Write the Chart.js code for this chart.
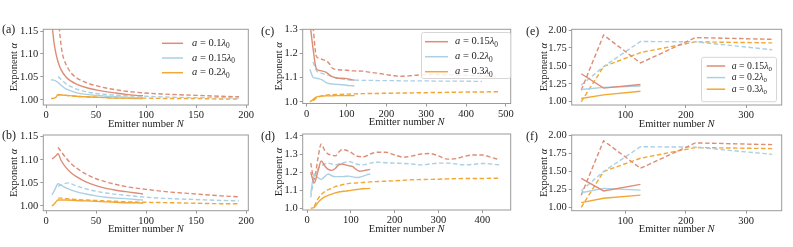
<!DOCTYPE html>
<html>
<head>
<meta charset="utf-8">
<script src="https://cdn.jsdelivr.net/npm/chart.js@4"></script>
<style>
  body { margin: 0; background: #fff; width: 793px; height: 247px; overflow: hidden; position: relative; }
  canvas { position: absolute; left: 0; top: 0; }
</style>
</head>
<body>
<canvas id="pa" width="793" height="247"></canvas>
<canvas id="pb" width="793" height="247"></canvas>
<canvas id="pc" width="793" height="247"></canvas>
<canvas id="pd" width="793" height="247"></canvas>
<canvas id="pe" width="793" height="247"></canvas>
<canvas id="pf" width="793" height="247"></canvas>
<script>
// ---- data: emitter numbers N and exponents alpha ----
// panel (a)
const aN_solid = [6, 8, 10, 12, 15, 20, 25, 30, 40, 50, 60, 70, 80, 90, 97];
const aN_dash = [12, 14, 16, 18, 20, 25, 30, 40, 50, 60, 80, 100, 125, 150, 175, 193];
const aN_blue = [5, 8, 10, 12, 15, 20, 30, 40, 50, 60, 70, 80, 90, 97];
const aN_dash2 = [12, 15, 20, 25, 30, 40, 50, 60, 80, 100, 125, 150, 175, 193];
const a_red_solid = [1.165, 1.125, 1.100, 1.083, 1.066, 1.050, 1.041, 1.035, 1.027, 1.022, 1.018, 1.015, 1.012, 1.010, 1.009];
const a_red_dash = [1.19, 1.14, 1.105, 1.088, 1.077, 1.059, 1.049, 1.038, 1.031, 1.026, 1.019, 1.015, 1.012, 1.010, 1.008, 1.007];
const a_blue_solid = [1.044, 1.043, 1.041, 1.038, 1.032, 1.024, 1.016, 1.012, 1.010, 1.008, 1.007, 1.006, 1.005, 1.005];
const a_blue_dash = [1.051, 1.045, 1.035, 1.029, 1.024, 1.018, 1.014, 1.012, 1.009, 1.008, 1.006, 1.005, 1.005, 1.004];
const a_orange_solid = [1.003, 1.004, 1.006, 1.012, 1.011, 1.010, 1.008, 1.007, 1.006, 1.005, 1.004, 1.004, 1.003, 1.003];
const a_orange_dash = [1.010, 1.011, 1.010, 1.009, 1.008, 1.007, 1.006, 1.005, 1.004, 1.004, 1.003, 1.003, 1.002, 1.002];

// panel (b)
const bN_solid = [6, 8, 10, 12, 15, 20, 25, 30, 40, 50, 60, 70, 80, 90, 97];
const bN_small = [6, 8, 10, 12, 15, 20, 30, 40, 50, 60, 70, 80, 90, 97];
const bN_dash = [12, 15, 20, 25, 30, 40, 50, 60, 80, 100, 125, 150, 175, 193];
const bN_blue_dash = [12, 15, 18, 22, 25, 30, 40, 50, 60, 80, 100, 125, 150, 175, 193];
const b_red_solid = [1.102, 1.105, 1.109, 1.113, 1.099, 1.083, 1.072, 1.064, 1.052, 1.044, 1.038, 1.034, 1.031, 1.028, 1.026];
const b_red_dash = [1.127, 1.118, 1.104, 1.092, 1.083, 1.069, 1.059, 1.052, 1.042, 1.036, 1.030, 1.026, 1.022, 1.020];
const b_blue_solid = [1.024, 1.032, 1.041, 1.048, 1.045, 1.039, 1.031, 1.026, 1.022, 1.019, 1.017, 1.016, 1.014, 1.013];
const b_blue_dash = [1.043, 1.045, 1.048, 1.050, 1.048, 1.044, 1.037, 1.032, 1.028, 1.023, 1.019, 1.016, 1.014, 1.012, 1.011];
const b_orange_solid = [1.000, 1.004, 1.009, 1.013, 1.013, 1.013, 1.012, 1.011, 1.010, 1.009, 1.008, 1.007, 1.007, 1.006];
const b_orange_dash = [1.017, 1.017, 1.016, 1.015, 1.014, 1.013, 1.012, 1.011, 1.009, 1.008, 1.007, 1.006, 1.005, 1.005];

// panel (c)
const cN_solid = [8, 16, 24, 32, 40, 48, 56, 64, 72, 80, 88, 96, 104, 112, 120];
const cN_dash = [16, 24, 32, 40, 48, 56, 64, 80, 100, 120, 140, 160, 180, 200, 220, 240, 260, 280, 300, 320, 340, 360, 380, 400, 420, 440, 460, 480];
const c_red_solid = [1.33, 1.22, 1.138, 1.130, 1.127, 1.123, 1.113, 1.104, 1.100, 1.098, 1.098, 1.097, 1.095, 1.092, 1.090];
const c_blue_solid = [1.135, 1.102, 1.098, 1.095, 1.090, 1.081, 1.076, 1.074, 1.073, 1.072, 1.071, 1.070, 1.068, 1.067, 1.066];
const c_orange_solid = [1.000, 1.010, 1.020, 1.023, 1.024, 1.025, 1.025, 1.025, 1.026, 1.026, 1.026, 1.026, 1.026, 1.026, 1.026];
const c_red_dash = [1.31, 1.19, 1.18, 1.175, 1.17, 1.16, 1.14, 1.133, 1.131, 1.128, 1.127, 1.122, 1.118, 1.113, 1.108, 1.106, 1.108, 1.111, 1.113, 1.114, 1.113, 1.112, 1.111, 1.110, 1.108, 1.107, 1.105, 1.104];
const c_blue_dash = [1.165, 1.13, 1.122, 1.117, 1.113, 1.110, 1.105, 1.097, 1.092, 1.090, 1.089, 1.089, 1.088, 1.088, 1.088, 1.087, 1.087, 1.087, 1.087, 1.086, 1.086, 1.086, 1.086, 1.086, 1.085, 1.085];
const c_orange_dash = [1.005, 1.015, 1.022, 1.026, 1.028, 1.029, 1.030, 1.031, 1.032, 1.033, 1.034, 1.035, 1.035, 1.036, 1.036, 1.037, 1.037, 1.038, 1.038, 1.039, 1.039, 1.040, 1.040, 1.041, 1.041, 1.041, 1.042, 1.042];

// panel (d)
const dN_solid = [8, 16, 24, 32, 40, 48, 56, 64, 72, 80, 88, 96, 104, 112, 120, 128, 136, 144];
const dN_dash = [8, 16, 24, 32, 40, 48, 56, 64, 72, 80, 96, 112, 128, 144, 160, 180, 200, 220, 240, 260, 280, 300, 320, 340, 360, 380, 400, 420, 440];
const d_red_solid = [1.20, 1.14, 1.20, 1.262, 1.235, 1.215, 1.21, 1.22, 1.24, 1.245, 1.24, 1.235, 1.23, 1.215, 1.205, 1.208, 1.212, 1.215];
const d_blue_solid = [1.08, 1.19, 1.17, 1.16, 1.175, 1.19, 1.18, 1.175, 1.175, 1.175, 1.177, 1.178, 1.174, 1.17, 1.172, 1.178, 1.185, 1.19];
const d_orange_solid = [1.000, 1.005, 1.03, 1.05, 1.063, 1.072, 1.078, 1.085, 1.09, 1.093, 1.095, 1.098, 1.101, 1.104, 1.106, 1.108, 1.109, 1.11];
const d_red_dash = [1.25, 1.16, 1.27, 1.355, 1.32, 1.30, 1.295, 1.29, 1.31, 1.325, 1.315, 1.29, 1.285, 1.30, 1.31, 1.31, 1.295, 1.283, 1.29, 1.30, 1.303, 1.29, 1.272, 1.275, 1.288, 1.295, 1.295, 1.282, 1.268];
const d_blue_dash = [1.06, 1.17, 1.215, 1.235, 1.245, 1.25, 1.245, 1.24, 1.245, 1.25, 1.258, 1.245, 1.24, 1.25, 1.255, 1.252, 1.25, 1.248, 1.245, 1.24, 1.245, 1.25, 1.25, 1.245, 1.24, 1.243, 1.248, 1.245, 1.24];
const d_orange_dash = [null, 1.01, 1.05, 1.075, 1.092, 1.103, 1.11, 1.12, 1.125, 1.13, 1.138, 1.14, 1.143, 1.146, 1.148, 1.15, 1.152, 1.155, 1.158, 1.159, 1.16, 1.161, 1.163, 1.164, 1.165, 1.165, 1.165, 1.166, 1.166];

// panels (e) and (f): cubic lattices
const efN = [27, 64, 125, 216, 343];
const e_red_dash = [1.16, 1.93, 1.54, 1.895, 1.87];
const e_red_solid = [1.39, 1.19, 1.24];
const e_blue_dash = [1.23, 1.49, 1.84, 1.835, 1.725];
const e_blue_solid = [1.17, 1.20, 1.22];
const e_orange_dash = [1.00, 1.49, 1.685, 1.835, 1.82];
const e_orange_solid = [1.045, 1.095, 1.145];
const f_red_dash = [1.17, 1.93, 1.545, 1.90, 1.875];
const f_red_solid = [1.405, 1.228, 1.32];
const f_blue_dash = [1.232, 1.50, 1.846, 1.84, 1.74];
const f_blue_solid = [1.204, 1.265, 1.24];
const f_orange_dash = [1.00, 1.50, 1.685, 1.835, 1.82];
const f_orange_solid = [1.065, 1.126, 1.17];

const legendA = ['0.1', '0.15', '0.2'];
const legendCE = ['0.15', '0.2', '0.3'];

// ---- styling ----
const RED = 'rgb(221,141,118)';
const BLUE = 'rgb(170,208,228)';
const ORANGE = 'rgb(242,168,50)';
const FRAME = '#9a9a9a';
const INK = '#222';
const SERIF = '"Liberation Serif", "DejaVu Serif", serif';

function font(size, it) {
  return (it ? 'italic ' : '') + size + 'px ' + SERIF;
}

function richWidth(ctx, parts, size) {
  let w = 0;
  parts.forEach(p => {
    ctx.font = font(p.sub ? size * 0.7 : size, p.it);
    w += ctx.measureText(p.t).width;
  });
  return w;
}

function drawRich(ctx, parts, x, y, size) {
  ctx.textBaseline = 'middle';
  ctx.textAlign = 'left';
  parts.forEach(p => {
    const s = p.sub ? size * 0.7 : size;
    ctx.font = font(s, p.it);
    ctx.fillText(p.t, x, y + (p.sub ? size * 0.28 : 0));
    x += ctx.measureText(p.t).width;
  });
}

function legendParts(v) {
  return [{ t: 'a', it: true }, { t: ' = ' + v }, { t: 'λ', it: true }, { t: '0', sub: true }];
}

const X_TITLE = [{ t: 'Emitter number ' }, { t: 'N', it: true }];
const Y_TITLE = [{ t: 'Exponent ' }, { t: 'α', it: true }];

const deco = {
  id: 'deco',
  afterDraw(chart, args, o) {
    const ctx = chart.ctx;
    const ca = chart.chartArea;
    ctx.save();
    ctx.strokeStyle = FRAME;
    ctx.lineWidth = 1;
    ctx.strokeRect(ca.left, ca.top, ca.right - ca.left, ca.bottom - ca.top);

    ctx.fillStyle = INK;
    // panel letter
    ctx.font = font(12);
    ctx.textBaseline = 'middle';
    ctx.fillText(o.label, o.lx, o.ly);

    // x title
    const xs = 10.5;
    const xw = richWidth(ctx, X_TITLE, xs);
    drawRich(ctx, X_TITLE, (ca.left + ca.right) / 2 - xw / 2, ca.bottom + 19, xs);

    // y title
    const yw = richWidth(ctx, Y_TITLE, xs);
    ctx.save();
    ctx.translate(o.ytx, (ca.top + ca.bottom) / 2);
    ctx.rotate(-Math.PI / 2);
    drawRich(ctx, Y_TITLE, -yw / 2, 0, xs);
    ctx.restore();

    // legend
    const L = o.legend;
    if (L) {
      if (L.frame) {
        const f = L.frame;
        ctx.beginPath();
        ctx.roundRect(f[0], f[1], f[2], f[3], 2);
        ctx.fillStyle = 'rgba(255,255,255,0.85)';
        ctx.fill();
        ctx.strokeStyle = '#d6d6d6';
        ctx.lineWidth = 1;
        ctx.stroke();
      }
      chart.data.datasets.filter(d => d.legendText).forEach((d, i) => {
        const y = L.y0 + i * L.dy;
        ctx.strokeStyle = d.borderColor;
        ctx.lineWidth = 1.5;
        ctx.setLineDash([]);
        ctx.beginPath();
        ctx.moveTo(L.x0, y);
        ctx.lineTo(L.x0 + L.len, y);
        ctx.stroke();
        ctx.fillStyle = INK;
        drawRich(ctx, legendParts(d.legendText), L.tx, y, L.size);
      });
    }
    ctx.restore();
  }
};

function line(n, v, color, dashed, legend) {
  return {
    data: v.map((y, i) => ({ x: n[i], y: y })).filter(p => p.y !== null),
    borderColor: color,
    borderWidth: 1.4,
    borderDash: dashed ? [4.5, 2.5] : [],
    pointRadius: 0,
    fill: false,
    legendText: legend || null
  };
}

function panel(id, cfg) {
  const A = cfg.area;
  const tickFont = { family: SERIF, size: 10.5 };
  new Chart(document.getElementById(id), {
    type: 'line',
    data: { datasets: cfg.datasets },
    options: {
      responsive: false,
      animation: false,
      events: [],
      layout: { padding: { left: 0, top: A.t, right: 793 - A.r, bottom: 247 - A.b - 20 } },
      elements: { line: { tension: cfg.smooth ? 0.35 : 0, cubicInterpolationMode: cfg.smooth ? 'monotone' : 'default' } },
      plugins: { legend: { display: false }, tooltip: { enabled: false }, deco: cfg.deco },
      scales: {
        x: {
          type: 'linear', min: cfg.x[0], max: cfg.x[1],
          afterFit: s => { s.height = 20; },
          border: { display: false },
          grid: { display: true, drawOnChartArea: false, drawTicks: true, tickLength: 3, color: FRAME },
          ticks: { stepSize: cfg.x[2], includeBounds: false, padding: 1, color: INK, font: tickFont, maxRotation: 0, autoSkip: false }
        },
        y: {
          type: 'linear', min: cfg.y[0], max: cfg.y[1],
          afterFit: s => { s.width = A.l; },
          border: { display: false },
          grid: { display: true, drawOnChartArea: false, drawTicks: true, tickLength: 3, color: FRAME },
          ticks: { stepSize: cfg.y[2], includeBounds: false, padding: 2, color: INK, font: tickFont, autoSkip: false,
                   callback: v => Number(v).toFixed(cfg.dec) }
        }
      }
    },
    plugins: [deco]
  });
}

panel('pa', {
  area: { l: 43.3, r: 248.3, t: 29.3, b: 105 },
  x: [-2.7, 202.3, 50], y: [0.989, 1.1537, 0.05], dec: 2, smooth: true,
  deco: { label: '(a)', lx: 2, ly: 30, ytx: 14,
          legend: { x0: 162, len: 21, tx: 192, y0: 43.3, dy: 14.7, size: 10.5 } },
  datasets: [
    line(aN_solid, a_red_solid, RED, false, legendA[0]),
    line(aN_blue, a_blue_solid, BLUE, false, legendA[1]),
    line(aN_blue, a_orange_solid, ORANGE, false, legendA[2]),
    line(aN_dash, a_red_dash, RED, true),
    line(aN_dash2, a_blue_dash, BLUE, true),
    line(aN_dash2, a_orange_dash, ORANGE, true)
  ]
});

panel('pb', {
  area: { l: 43.3, r: 248.3, t: 135, b: 210.7 },
  x: [-2.7, 202.3, 50], y: [0.9898, 1.1537, 0.05], dec: 2, smooth: true,
  deco: { label: '(b)', lx: 2, ly: 136, ytx: 14 },
  datasets: [
    line(bN_solid, b_red_solid, RED, false),
    line(bN_small, b_blue_solid, BLUE, false),
    line(bN_small, b_orange_solid, ORANGE, false),
    line(bN_dash, b_red_dash, RED, true),
    line(bN_blue_dash, b_blue_dash, BLUE, true),
    line(bN_dash, b_orange_dash, ORANGE, true)
  ]
});

panel('pc', {
  area: { l: 302.7, r: 510.7, t: 29.3, b: 103.5 },
  x: [-10, 512, 100], y: [0.9934, 1.3, 0.1], dec: 1, smooth: true,
  deco: { label: '(c)', lx: 261, ly: 32, ytx: 279,
          legend: { frame: [421.5, 32.5, 89, 46], x0: 425, len: 23, tx: 455, y0: 41.7, dy: 15, size: 10.5 } },
  datasets: [
    line(cN_solid, c_red_solid, RED, false, legendCE[0]),
    line(cN_solid, c_blue_solid, BLUE, false, legendCE[1]),
    line(cN_solid, c_orange_solid, ORANGE, false, legendCE[2]),
    line(cN_dash, c_red_dash, RED, true),
    line(cN_dash, c_blue_dash, BLUE, true),
    line(cN_dash, c_orange_dash, ORANGE, true)
  ]
});

panel('pd', {
  area: { l: 302.7, r: 510.7, t: 134, b: 210 },
  x: [-10.3, 465, 100], y: [0.9906, 1.411, 0.1], dec: 1, smooth: true,
  deco: { label: '(d)', lx: 261, ly: 137, ytx: 279 },
  datasets: [
    line(dN_solid, d_red_solid, RED, false),
    line(dN_solid, d_blue_solid, BLUE, false),
    line(dN_solid, d_orange_solid, ORANGE, false),
    line(dN_dash, d_red_dash, RED, true),
    line(dN_dash, d_blue_dash, BLUE, true),
    line(dN_dash, d_orange_dash, ORANGE, true)
  ]
});

panel('pe', {
  area: { l: 571.7, r: 781.7, t: 29.3, b: 105 },
  x: [11.2, 358.8, 100], y: [0.954, 2.01, 0.25], dec: 2, smooth: false,
  deco: { label: '(e)', lx: 526, ly: 32, ytx: 544,
          legend: { frame: [701.5, 57.3, 75, 44.4], x0: 706.7, len: 18.5, tx: 731.7, y0: 66, dy: 11.6, size: 9.8 } },
  datasets: [
    line(efN, e_red_solid, RED, false, legendCE[0]),
    line(efN, e_blue_solid, BLUE, false, legendCE[1]),
    line(efN, e_orange_solid, ORANGE, false, legendCE[2]),
    line(efN, e_red_dash, RED, true),
    line(efN, e_blue_dash, BLUE, true),
    line(efN, e_orange_dash, ORANGE, true)
  ]
});

panel('pf', {
  area: { l: 571.7, r: 781.7, t: 135, b: 210.7 },
  x: [11.2, 358.8, 100], y: [0.9525, 2.01, 0.25], dec: 2, smooth: false,
  deco: { label: '(f)', lx: 526, ly: 137, ytx: 544 },
  datasets: [
    line(efN, f_red_solid, RED, false),
    line(efN, f_blue_solid, BLUE, false),
    line(efN, f_orange_solid, ORANGE, false),
    line(efN, f_red_dash, RED, true),
    line(efN, f_blue_dash, BLUE, true),
    line(efN, f_orange_dash, ORANGE, true)
  ]
});
</script>
</body>
</html>
